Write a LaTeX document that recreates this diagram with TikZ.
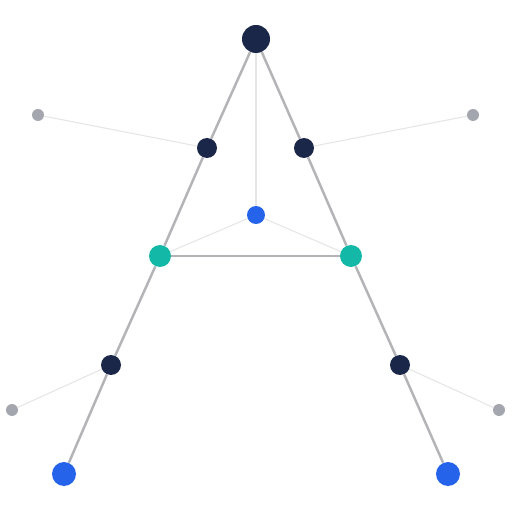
\documentclass[tikz,border=0pt]{standalone}
\usepackage{tikz}
\definecolor{navy}{HTML}{1B2748}
\definecolor{vivid}{HTML}{2563EB}
\definecolor{teal}{HTML}{14B8A6}
\definecolor{pebble}{HTML}{A3A6AE}
\definecolor{rail}{HTML}{B4B4B8}
\definecolor{thread}{HTML}{E6E6E6}
\tikzset{
	dot/.style={circle, inner sep=0pt, minimum size=#1},
	spine/.style={line width=1.4pt, color=rail},
	twig/.style={line width=0.6pt, color=thread}
}

\begin{document}
\begin{tikzpicture}
			%%%%% START %%%%%
			
			\useasboundingbox[fill=white] (0, 0) rectangle (10.24, 10.24);
			
			\node[dot=0.56cm, fill=navy] (apex) at (5.12, 9.46) {};
			\node[dot=0.40cm, fill=navy] (upleft) at (4.14, 7.28) {};
			\node[dot=0.40cm, fill=navy] (upright) at (6.08, 7.28) {};
			\node[dot=0.36cm, fill=vivid] (hub) at (5.12, 5.94) {};
			\node[dot=0.44cm, fill=teal] (midleft) at (3.20, 5.12) {};
			\node[dot=0.44cm, fill=teal] (midright) at (7.02, 5.12) {};
			\node[dot=0.40cm, fill=navy] (lowleft) at (2.22, 2.94) {};
			\node[dot=0.40cm, fill=navy] (lowright) at (8.00, 2.94) {};
			\node[dot=0.48cm, fill=vivid] (footleft) at (1.28, 0.76) {};
			\node[dot=0.48cm, fill=vivid] (footright) at (8.96, 0.76) {};
			
			\node[dot=0.24cm, fill=pebble] (leafa) at (0.76, 7.94) {};
			\node[dot=0.24cm, fill=pebble] (leafb) at (9.46, 7.94) {};
			\node[dot=0.24cm, fill=pebble] (leafc) at (0.24, 2.04) {};
			\node[dot=0.24cm, fill=pebble] (leafd) at (9.98, 2.04) {};
			
			\draw[spine] (apex) -- (upleft) -- (midleft) -- (lowleft) -- (footleft);
			\draw[spine] (apex) -- (upright) -- (midright) -- (lowright) -- (footright);
			\draw[spine] (midleft) -- (midright);
			
			\draw[twig] (apex) -- (hub);
			\draw[twig] (hub) -- (midleft);
			\draw[twig] (hub) -- (midright);
			\draw[twig] (leafa) -- (upleft);
			\draw[twig] (leafb) -- (upright);
			\draw[twig] (leafc) -- (lowleft);
			\draw[twig] (leafd) -- (lowright);
			
			%%%%% END %%%%%
		\end{tikzpicture}
\end{document}
